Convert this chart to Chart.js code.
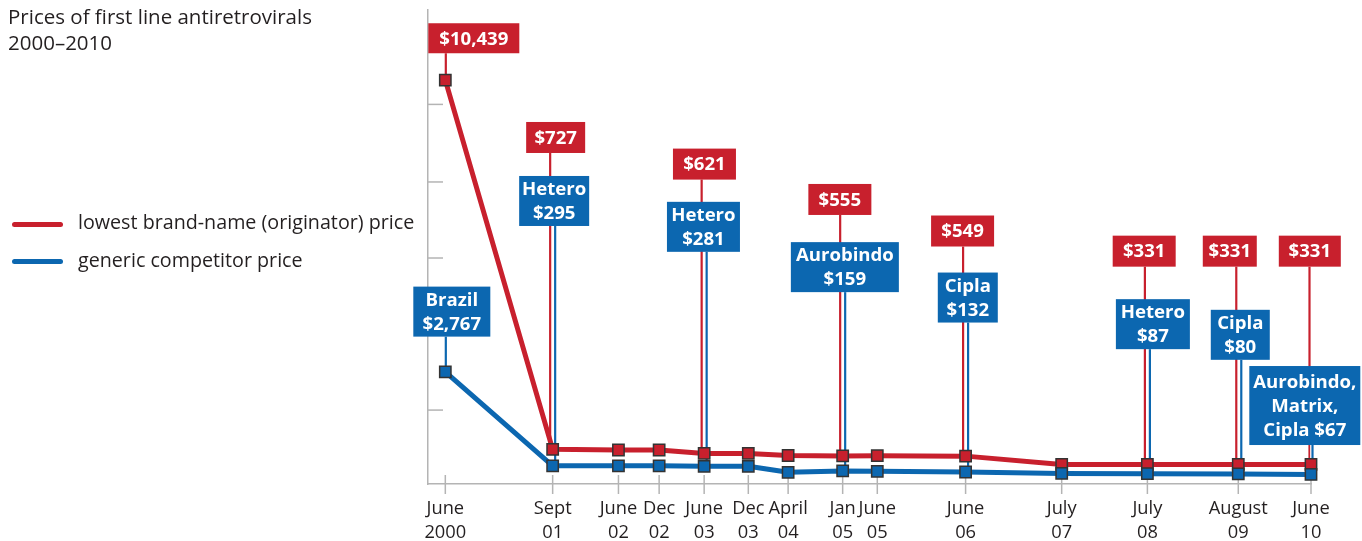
<!DOCTYPE html>
<html>
<head>
<meta charset="utf-8">
<title>Prices of first line antiretrovirals 2000–2010</title>
<script src="https://cdn.jsdelivr.net/npm/chart.js@4.4.1/dist/chart.umd.min.js"></script>
<style>
  body { margin: 0; background: #fff; font-family: 'Open Sans', sans-serif; color: #231f20; }
  #wrap { position: relative; width: 1362px; height: 541px; overflow: hidden; }
  #chart { position: absolute; left: 0; top: 0; }
  #title { position: absolute; left: 8px; top: 3px; font-size: 20.5px; line-height: 26px; }
  .key { position: absolute; left: 78px; font-size: 19.7px; line-height: 26px; white-space: nowrap; }
  .swatch { position: absolute; left: 12px; width: 51px; height: 5px; border-radius: 2.5px; }
</style>
</head>
<body>
<div id="wrap">
  <canvas id="chart" width="1362" height="541"></canvas>
  <div id="title">Prices of first line antiretrovirals<br>2000–2010</div>
  <div class="swatch" style="top:222px;background:#c8202d"></div>
  <div class="key" style="top:209px">lowest brand-name (originator) price</div>
  <div class="swatch" style="top:259px;background:#0c67b0"></div>
  <div class="key" style="top:247px">generic competitor price</div>
</div>
<script>
// dates as decimal years
const periodX = [2000.42, 2001.66, 2002.42, 2002.89, 2003.41, 2003.92, 2004.38,
                 2005.01, 2005.41, 2006.43, 2007.54, 2008.53, 2009.58, 2010.42];
const periodLabels = [['June', '2000'], ['Sept', '01'], ['June', '02'], ['Dec', '02'],
                      ['June', '03'], ['Dec', '03'], ['April', '04'], ['Jan', '05'],
                      ['June', '05'], ['June', '06'], ['July', '07'], ['July', '08'],
                      ['August', '09'], ['June', '10']];

// US$ per patient per year
const brandPrice   = [10439, 727, 710, 710, 621, 621, 565, 555, 560, 549, 331, 331, 331, 331];
const genericPrice = [2767, 295, 295, 295, 281, 281, 124, 159, 150, 132, 95, 87, 80, 67];
const genericMakers = ['Brazil', 'Hetero', null, null, 'Hetero', null, null, 'Aurobindo',
                       null, 'Cipla', null, 'Hetero', 'Cipla', 'Aurobindo, Matrix, Cipla'];

const yTickValues = [1760, 3760, 5760, 7760, 9800];

const RED = '#c8202d';
const BLUE = '#0c67b0';
const AXIS = '#b4b4b4';

// callout boxes: y = box centre in $, dx = box shift (px), lx = leader shift (px)
const callouts = [
  { s: 'brand', i: 0,  y: 11540, w: 91,  h: 30, dx: 28.5, lx: 0.5 },
  { s: 'brand', i: 1,  y: 8930,  w: 59,  h: 31, dx: 3,    lx: -2.5 },
  { s: 'brand', i: 4,  y: 8230,  w: 63,  h: 31, dx: 0.3,  lx: -2.5 },
  { s: 'brand', i: 7,  y: 7300,  w: 63,  h: 31, dx: -2.8, lx: -2.5 },
  { s: 'brand', i: 9,  y: 6470,  w: 63,  h: 31, dx: -3,   lx: -2.5 },
  { s: 'brand', i: 11, y: 5940,  w: 63,  h: 31, dx: -3.2, lx: -2.5 },
  { s: 'brand', i: 12, y: 5940,  w: 54,  h: 31, dx: -8.5, lx: -2 },
  { s: 'brand', i: 13, y: 5940,  w: 62,  h: 31, dx: -1.2, lx: -1.5 },
  { s: 'generic', i: 0,  y: 4350, w: 77,  h: 50, dx: 6.5,  lx: 0.5 },
  { s: 'generic', i: 1,  y: 7260, w: 70,  h: 50, dx: 1.5,  lx: 2.5 },
  { s: 'generic', i: 4,  y: 6580, w: 73,  h: 50, dx: -0.7, lx: 2.5 },
  { s: 'generic', i: 7,  y: 5520, w: 108, h: 50, dx: 2.2,  lx: 2.5 },
  { s: 'generic', i: 9,  y: 4720, w: 60,  h: 50, dx: 2.2,  lx: 2.5 },
  { s: 'generic', i: 11, y: 4020, w: 74,  h: 50, dx: 5.5,  lx: 2.5 },
  { s: 'generic', i: 12, y: 3740, w: 59,  h: 50, dx: 2,    lx: 3 },
  { s: 'generic', i: 13, y: 1880, w: 111, h: 79, dx: -6.2, lx: 1.5 }
];

function money(v) {
  return '$' + v.toLocaleString('en-US');
}

function calloutText(c) {
  if (c.s === 'brand') return [money(brandPrice[c.i])];
  const makers = genericMakers[c.i].split(', ');
  const price = money(genericPrice[c.i]);
  if (makers.length === 1) return [makers[0], price];
  // several makers: commas kept, price goes on the last line
  const lines = makers.map((m, k) => k < makers.length - 1 ? m + ',' : m);
  lines[lines.length - 1] += ' ' + price;
  return lines;
}

function vline(ctx, x, y1, y2) {
  ctx.beginPath();
  ctx.moveTo(x, y1);
  ctx.lineTo(x, y2);
  ctx.stroke();
}

const calloutPlugin = {
  id: 'callouts',
  beforeDatasetsDraw(chart) {
    const ctx = chart.ctx;
    const xs = chart.scales.x, ys = chart.scales.y;
    ctx.save();
    // inner tick marks
    ctx.strokeStyle = AXIS;
    ctx.lineWidth = 1.5;
    ys.ticks.forEach(t => {
      const y = ys.getPixelForValue(t.value);
      ctx.beginPath();
      ctx.moveTo(xs.left, y);
      ctx.lineTo(xs.left + 15, y);
      ctx.stroke();
    });
    xs.ticks.forEach(t => {
      const x = xs.getPixelForValue(t.value);
      vline(ctx, x, ys.bottom - 9, ys.bottom + 10);
    });
    // leader lines from box to point
    callouts.forEach(c => {
      const vals = c.s === 'brand' ? brandPrice : genericPrice;
      const x = xs.getPixelForValue(periodX[c.i]) + c.lx;
      const yTop = ys.getPixelForValue(c.y) + c.h / 2;
      const yEnd = ys.getPixelForValue(vals[c.i]);
      ctx.strokeStyle = '#fff';
      ctx.lineWidth = 4.5;
      vline(ctx, x, yTop, yEnd);
      ctx.strokeStyle = c.s === 'brand' ? RED : BLUE;
      ctx.lineWidth = 2.2;
      vline(ctx, x, yTop, yEnd);
    });
    ctx.restore();
  },
  afterDatasetsDraw(chart) {
    const ctx = chart.ctx;
    const xs = chart.scales.x, ys = chart.scales.y;
    ctx.save();
    ctx.font = 'bold 18.6px "Open Sans"';
    ctx.textAlign = 'center';
    ctx.textBaseline = 'middle';
    callouts.forEach(c => {
      const cx = xs.getPixelForValue(periodX[c.i]) + c.dx;
      const cy = ys.getPixelForValue(c.y);
      ctx.fillStyle = c.s === 'brand' ? RED : BLUE;
      ctx.fillRect(cx - c.w / 2, cy - c.h / 2, c.w, c.h);
      const lines = calloutText(c);
      ctx.fillStyle = '#fff';
      lines.forEach((ln, k) => {
        ctx.fillText(ln, cx, cy + (k - (lines.length - 1) / 2) * 24 + 1);
      });
    });
    ctx.restore();
  }
};

new Chart(document.getElementById('chart'), {
  type: 'line',
  data: {
    datasets: [
      {
        label: 'lowest brand-name (originator) price',
        data: periodX.map((x, i) => ({ x: x, y: brandPrice[i] })),
        borderColor: RED,
        backgroundColor: RED,
        borderWidth: 5,
        borderJoinStyle: 'round',
        pointStyle: 'rect',
        pointRadius: 8,
        pointBackgroundColor: RED,
        pointBorderColor: '#333',
        pointBorderWidth: 1.5,
        tension: 0,
        clip: false,
        order: 1
      },
      {
        label: 'generic competitor price',
        data: periodX.map((x, i) => ({ x: x, y: genericPrice[i] })),
        borderColor: BLUE,
        backgroundColor: BLUE,
        borderWidth: 5,
        borderJoinStyle: 'round',
        pointStyle: 'rect',
        pointRadius: 8,
        pointBackgroundColor: BLUE,
        pointBorderColor: '#333',
        pointBorderWidth: 1.5,
        tension: 0,
        clip: false,
        order: 0
      }
    ]
  },
  options: {
    responsive: false,
    animation: false,
    devicePixelRatio: 1,
    layout: { padding: { left: 428, top: 10, right: 51, bottom: 0 } },
    plugins: {
      legend: { display: false },
      tooltip: { enabled: false }
    },
    scales: {
      x: {
        type: 'linear',
        min: 2000.22,
        max: 2010.42,
        afterBuildTicks: s => { s.ticks = periodX.map(v => ({ value: v })); },
        afterFit: s => { s.height = 57; },
        ticks: {
          autoSkip: false,
          maxRotation: 0,
          padding: 13,
          color: '#231f20',
          font: { family: 'Open Sans', size: 18.3, lineHeight: 1.3115 },
          callback: (v, i) => periodLabels[i]
        },
        grid: { display: false, drawTicks: false },
        border: { display: true, color: AXIS, width: 1.5 }
      },
      y: {
        min: -184,
        max: 12283,
        afterBuildTicks: s => { s.ticks = yTickValues.map(v => ({ value: v })); },
        ticks: { display: false },
        grid: { display: false, drawTicks: false },
        border: { display: true, color: AXIS, width: 1.5 }
      }
    }
  },
  plugins: [calloutPlugin]
});
</script>
</body>
</html>
